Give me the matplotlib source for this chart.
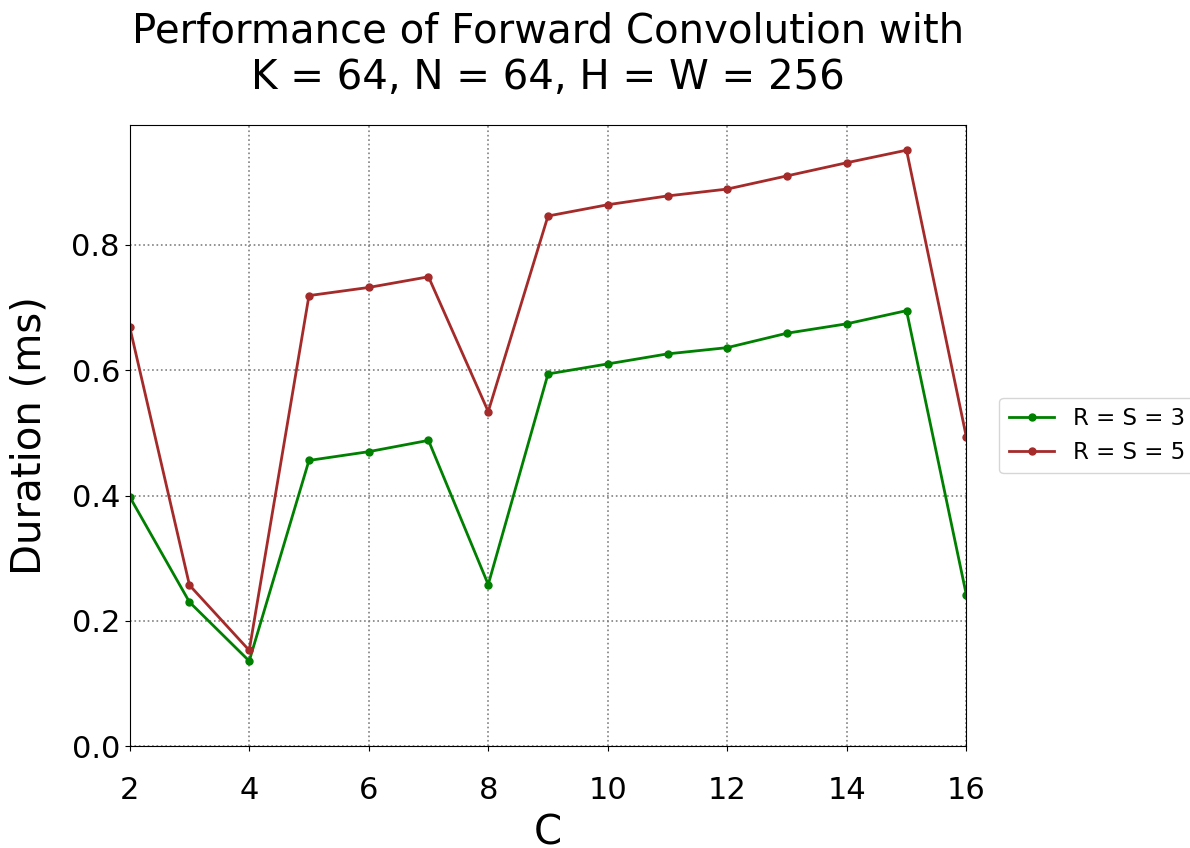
import numpy as np
import matplotlib
matplotlib.use("Agg")
import matplotlib.pyplot as plt

C = [2, 3, 4, 5, 6, 7, 8, 9, 10, 11, 12, 13, 14, 15, 16]
rs3 = [0.398, 0.230, 0.136, 0.456, 0.470, 0.488, 0.258, 0.594, 0.610, 0.626,
       0.636, 0.659, 0.674, 0.695, 0.242]
rs5 = [0.669, 0.257, 0.153, 0.719, 0.732, 0.749, 0.534, 0.846, 0.864, 0.878,
       0.889, 0.910, 0.931, 0.951, 0.494]
labels = ["R = S = 3", "R = S = 5"]

fig = plt.figure(figsize=(11.9, 8.48), dpi=100)
ax = fig.add_axes([0.109, 0.12, 0.703, 0.733])

ax.plot(C, rs3, color="green", marker="o", ms=5, lw=2, label=labels[0])
ax.plot(C, rs5, color="brown", marker="o", ms=5, lw=2, label=labels[1])

ax.set_xlim(2, 16)
ax.set_ylim(bottom=0)
ax.set_xticks(range(2, 17, 2))
ax.set_yticks([0.0, 0.2, 0.4, 0.6, 0.8])
ax.tick_params(labelsize=22)
ax.tick_params(axis="x", pad=18)
ax.grid(True, ls=":", color="gray", lw=1.2)

ax.set_xlabel("C", fontsize=29, labelpad=6)
ax.set_ylabel("Duration (ms)", fontsize=29, labelpad=16)
ax.set_title("Performance of Forward Convolution with\nK = 64, N = 64, H = W = 256",
             fontsize=29, pad=26)
ax.legend(loc="center left", bbox_to_anchor=(1.026, 0.5), fontsize=16.5)

plt.savefig("out.png", dpi=100)
